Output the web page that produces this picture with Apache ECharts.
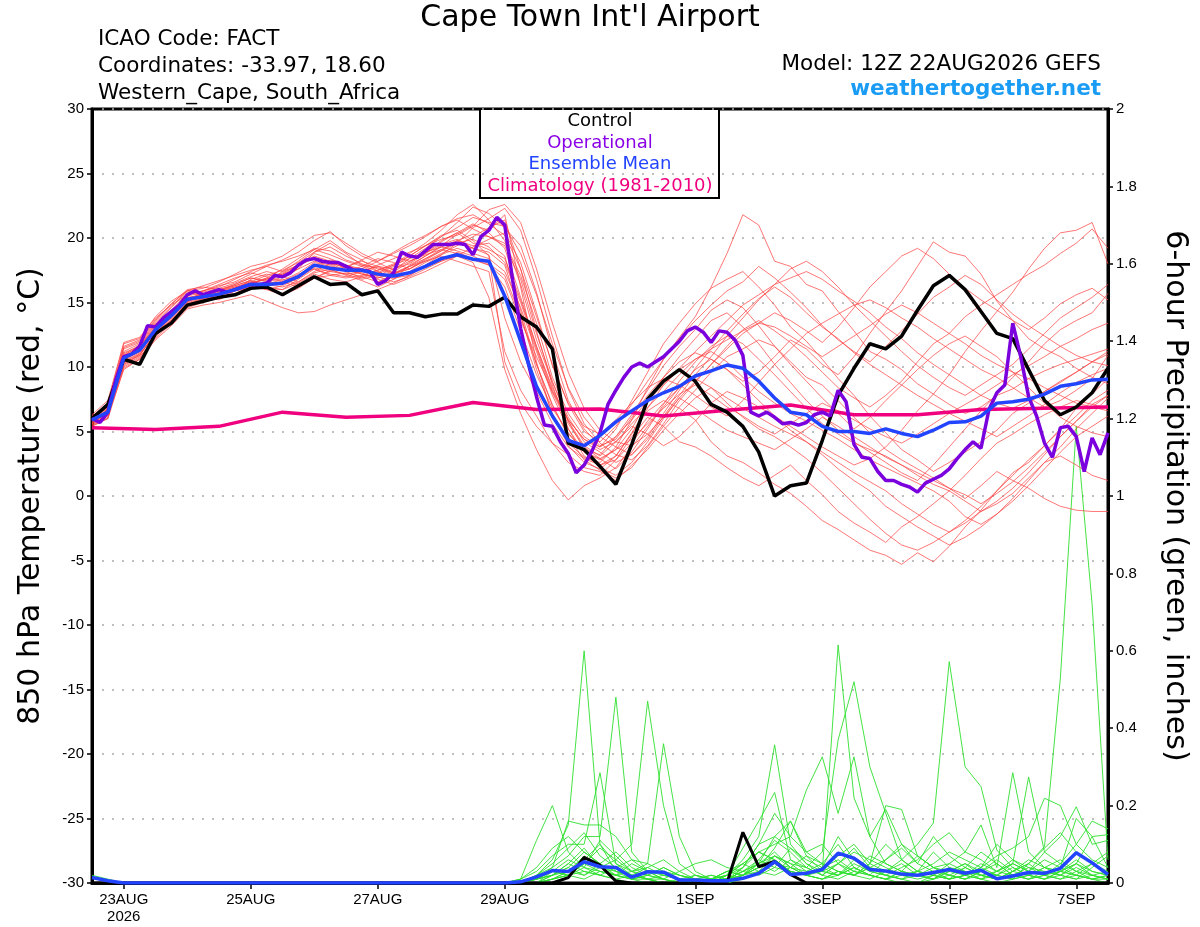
<!DOCTYPE html>
<html>
<head>
<meta charset="utf-8">
<title>Cape Town Int'l Airport</title>
<script src="https://cdn.jsdelivr.net/npm/echarts@6.0.0/dist/echarts.min.js"></script>
<style>
html, body { margin: 0; padding: 0; background: #fff; }
#chart { width: 1200px; height: 927px; }
</style>
</head>
<body>
<div id="chart"></div>
<script>
// hours since 22AUG 12Z ; members every 6h, operational every 3h, climatology every 24h
var xTickHours = [12, 60, 108, 156, 228, 276, 324, 372];
var xTickLabels = ['23AUG\n2026', '25AUG', '27AUG', '29AUG', '1SEP', '3SEP', '5SEP', '7SEP'];

var controlTemp = [6.0,7.1,10.6,10.2,12.6,13.4,14.8,15.1,15.4,15.6,16.1,16.2,15.6,16.3,17.0,16.4,16.5,15.6,15.9,14.2,14.2,13.9,14.1,14.1,14.8,14.7,15.4,13.9,13.1,11.4,4.1,3.6,2.3,0.9,4.0,7.5,8.9,9.8,8.9,7.1,6.5,5.4,3.4,0.0,0.8,1.0,4.3,7.8,9.9,11.8,11.4,12.4,14.4,16.3,17.1,16.0,14.3,12.6,12.2,9.8,7.4,6.3,6.9,8.0,9.9];
var meanTemp = [5.9,6.5,10.7,11.3,12.9,14.0,15.25,15.45,15.65,16.0,16.4,16.4,16.5,17.0,17.9,17.65,17.5,17.5,17.2,17.05,17.3,17.8,18.4,18.7,18.35,18.2,15.5,12.0,8.5,6.2,4.3,3.9,4.7,5.75,6.6,7.4,8.0,8.5,9.3,9.7,10.15,9.9,8.9,7.6,6.5,6.3,5.4,5.0,5.0,4.85,5.2,4.85,4.6,5.1,5.7,5.75,6.2,7.2,7.3,7.5,7.9,8.5,8.7,9.0,9.05];
var operTemp = [6.0,5.7,6.5,9.0,10.8,11.0,11.6,13.2,13.1,13.8,14.3,14.8,15.6,15.9,15.6,15.8,16.0,15.8,16.0,16.2,16.4,16.4,16.5,17.1,17.0,17.3,17.9,18.3,18.4,18.2,18.1,18.1,17.8,17.5,17.5,17.4,16.4,16.7,17.3,18.9,18.6,18.5,19.0,19.5,19.5,19.5,19.6,19.5,18.7,20.1,20.6,21.6,21.0,
  16.7,13.0,10.2,7.7,5.5,5.4,4.2,3.3,1.8,2.4,3.5,4.9,7.1,8.2,9.2,10.0,10.3,10.0,10.4,10.8,11.4,12.0,12.8,13.1,12.7,11.9,12.8,12.7,12.1,10.9,6.5,6.2,6.5,6.1,5.6,5.7,5.5,5.7,6.3,6.5,6.2,8.2,7.3,4.0,3.0,2.9,1.9,1.2,1.2,0.9,0.7,0.3,1.0,1.3,1.6,2.1,2.9,3.6,4.2,3.7,6.7,8.0,8.6,13.4,10.8,7.7,6.2,4.1,3.0,5.3,5.4,4.6,1.9,4.5,3.2,4.9];
var climTemp = [5.3,5.15,5.4,6.5,6.1,6.25,7.25,6.7,6.75,6.2,6.65,7.05,6.3,6.3,6.7,6.8,6.9];

var controlPrcp = [0,0,0,0,0,0,0,0,0,0,0,0,0,0,0,0,0,0,0,0,0,0,0,0,0,0,0,0,0,0,0.014,0.066,0.046,0.005,0,0,0,0,0,0,0,0.131,0.042,0.056,0.022,0,0,0,0,0,0,0,0,0,0,0,0,0,0,0,0,0,0,0,0];
var meanPrcp = [0.014,0.006,0,0,0,0,0,0,0,0,0,0,0,0,0,0,0,0,0,0,0,0,0,0,0,0,0,0.003,0.016,0.032,0.03,0.055,0.042,0.04,0.015,0.029,0.028,0.008,0.008,0.006,0.006,0.012,0.025,0.055,0.022,0.025,0.035,0.077,0.064,0.035,0.031,0.023,0.02,0.027,0.035,0.025,0.033,0.011,0.018,0.027,0.025,0.038,0.078,0.052,0.022];

// ensemble members, 850 hPa temperature
var t01 = [5.6,6.8,11.2,11.8,13.4,14.6,15.8,15.5,15.2,15.9,16.8,17.2,16.9,17.6,18.9,19.6,18.8,17.9,17.4,16.8,17.9,18.6,19.4,20.3,21.0,20.6,21.8,16.2,10.4,6.2,4.1,3.0,2.6,3.8,5.9,8.4,10.6,12.3,13.9,16.2,18.8,21.8,21.0,18.2,17.8,16.4,15.9,14.3,12.8,11.2,10.6,9.8,8.7,7.9,7.1,6.4,6.9,7.8,8.3,9.1,9.7,10.2,10.6,11.0,11.4];
var t02 = [6.2,7.0,10.2,11.0,12.5,13.8,15.0,15.9,16.3,16.6,17.2,17.8,18.3,18.9,19.8,20.5,19.4,18.6,18.1,17.5,18.4,19.2,20.1,21.2,22.4,21.9,20.8,19.4,15.8,11.2,7.4,5.2,3.9,4.4,6.1,7.8,9.2,10.4,11.1,10.6,9.8,8.9,9.6,10.8,12.1,11.4,10.2,9.4,10.8,12.6,14.3,15.9,17.8,19.7,18.9,18.6,17.2,15.1,13.6,12.2,11.4,10.8,9.9,9.2,8.7];
var t03 = [5.4,6.1,10.9,11.6,13.2,14.2,15.4,15.3,15.8,16.2,16.6,16.1,16.0,16.8,17.6,17.2,17.0,17.4,17.8,17.6,18.0,18.8,19.5,19.9,19.2,18.7,13.8,10.4,8.1,5.6,3.8,2.9,2.4,3.1,4.8,6.6,7.4,6.8,5.9,4.2,3.1,2.6,1.8,0.9,0.2,-0.8,-1.9,-2.6,-3.4,-4.2,-4.6,-5.3,-4.4,-5.1,-3.9,-2.4,-1.1,0.4,1.8,2.6,3.9,5.2,6.8,7.9,9.1];
var t04 = [5.8,6.6,10.4,11.1,12.7,13.6,14.9,15.2,15.6,16.1,16.5,16.8,17.2,17.9,18.6,18.2,17.6,17.2,16.9,17.4,18.1,18.9,19.8,20.4,19.6,19.1,18.4,15.2,11.6,8.2,5.9,4.4,3.6,4.2,5.4,4.8,3.9,4.6,5.8,7.2,8.1,7.6,6.9,6.2,5.4,4.6,3.8,3.1,2.4,2.9,3.8,5.1,6.6,7.9,9.4,11.2,12.8,14.3,15.8,17.6,19.2,20.4,20.6,21.2,18.0];
var t05 = [6.0,6.9,11.5,12.0,13.6,14.9,16.0,16.2,16.0,16.4,16.9,16.6,17.4,18.2,19.1,19.8,18.9,18.3,17.4,16.9,17.1,17.9,18.7,19.6,20.8,21.5,22.3,20.6,16.8,12.4,8.3,5.6,4.1,3.2,2.8,3.9,5.6,7.4,8.8,10.2,11.6,12.9,13.6,12.8,11.9,10.8,9.6,8.4,7.6,6.9,7.8,8.9,10.4,11.8,12.6,13.9,14.8,15.6,16.4,17.2,17.9,18.8,19.6,20.7,19.2];
var t06 = [5.5,6.3,10.1,10.8,12.2,13.4,14.6,15.0,15.4,15.7,16.2,16.0,15.6,16.1,16.9,17.1,17.3,17.0,16.6,17.2,17.8,18.2,18.6,18.2,17.8,17.4,11.2,8.2,6.2,4.1,2.6,1.9,1.6,2.8,4.6,6.1,5.4,4.2,3.8,3.1,2.2,1.4,0.8,1.6,2.4,1.2,0.1,-1.2,-2.1,-2.8,-3.6,-2.4,-1.6,-0.6,0.4,1.6,2.9,4.1,4.8,5.6,6.3,6.9,7.4,7.1,6.8];
var t07 = [6.1,7.2,11.8,12.2,13.9,15.1,15.9,15.6,15.3,15.6,16.0,16.5,17.0,16.6,17.4,18.0,17.8,17.6,18.2,18.9,19.6,20.2,20.9,21.4,20.7,20.1,19.6,17.1,13.4,9.2,6.4,4.6,3.8,5.2,7.4,9.6,11.8,13.4,14.9,16.1,16.8,17.4,16.2,14.8,13.1,12.0,10.6,9.1,7.8,6.2,4.9,3.6,2.8,1.9,2.6,3.4,4.2,5.1,6.4,7.2,8.1,8.8,9.6,10.4,11.2];
var t08 = [5.7,6.4,10.6,11.4,13.0,14.3,15.5,15.8,16.1,16.5,17.0,17.4,17.1,17.8,18.8,18.4,17.9,17.6,17.0,16.6,17.0,17.6,18.2,18.9,18.4,17.9,16.2,12.8,9.4,6.8,4.9,3.4,2.9,2.1,3.4,5.2,7.1,8.9,10.4,11.6,12.4,11.8,10.6,9.4,8.1,6.8,5.6,4.8,4.1,3.6,3.1,2.4,1.6,0.9,0.4,-0.4,-1.2,-0.6,0.2,1.4,2.6,3.1,2.4,1.6,1.2];
var t09 = [5.9,6.7,10.8,11.5,13.1,14.0,15.1,15.4,15.9,16.3,16.7,16.3,16.6,17.2,17.6,17.1,16.9,17.1,17.5,17.9,18.4,18.9,19.3,19.0,18.6,18.0,17.1,13.9,10.2,7.1,4.6,2.8,2.0,1.4,2.2,3.8,5.4,6.9,8.2,9.6,10.8,11.4,12.1,11.6,10.4,9.2,8.6,7.4,6.1,4.9,3.6,2.8,2.1,1.4,0.6,-0.2,0.8,1.9,1.2,0.6,-0.2,-0.8,-1.1,-1.2,-1.2];
var t10 = [5.6,6.2,9.8,10.6,12.3,13.7,14.7,15.1,15.5,15.9,16.2,16.6,16.4,17.0,17.8,18.3,17.9,17.3,16.8,16.4,16.9,17.4,18.0,18.6,19.3,19.9,20.4,18.1,14.2,10.1,7.2,5.4,4.8,5.9,7.2,8.4,9.1,8.6,7.8,6.9,6.2,7.4,8.8,10.2,11.4,12.6,13.4,14.1,14.8,15.2,14.6,13.8,13.1,12.2,11.4,10.6,9.8,9.2,8.4,7.6,6.9,7.4,8.2,9.1,10.9];
var t11 = [6.3,7.4,11.9,12.3,13.8,14.8,15.6,15.9,16.4,16.9,17.3,17.0,16.7,17.3,18.1,17.8,17.4,17.8,18.4,18.1,17.6,18.2,18.8,19.4,20.1,20.8,21.4,17.6,12.8,8.6,5.2,3.4,2.8,3.6,5.2,7.4,9.2,10.8,12.2,13.6,14.2,13.1,11.8,10.2,8.8,7.4,6.2,5.1,4.2,3.4,2.6,1.8,1.2,2.4,3.8,5.2,6.6,7.9,9.2,10.4,11.8,12.9,13.6,14.2,15.7];
var t12 = [5.8,6.5,10.3,10.9,12.6,13.9,15.2,15.6,15.9,16.2,16.4,16.9,17.6,18.4,19.2,19.0,18.3,17.9,17.7,17.3,17.6,18.3,19.0,19.8,19.4,19.6,18.6,14.4,10.2,7.0,4.8,3.6,3.2,4.6,6.3,8.2,10.1,11.6,12.9,14.4,15.2,14.6,13.2,11.6,10.2,8.9,7.6,6.4,5.2,6.1,7.4,8.6,9.8,10.9,11.8,12.4,11.6,10.8,9.6,8.4,7.2,6.1,5.4,4.9,4.6];
var t13 = [5.5,6.0,10.5,11.2,12.8,14.1,15.3,15.7,16.0,16.3,16.7,16.2,16.0,16.5,17.2,16.8,16.6,17.0,17.5,18.0,18.6,19.4,20.2,20.6,19.8,18.6,10.4,7.2,5.4,4.1,3.2,2.2,1.9,1.2,2.4,3.6,5.1,6.4,7.6,8.4,7.2,6.1,5.2,4.6,3.8,2.9,1.8,0.6,-0.6,-1.8,-2.9,-3.8,-4.2,-3.6,-2.8,-1.9,-0.8,0.4,1.6,2.8,3.9,5.1,6.2,7.4,8.2];
var t14 = [6.0,6.8,11.0,11.7,13.3,14.4,15.7,15.9,16.2,16.8,17.4,17.9,18.2,18.6,19.1,18.7,18.2,17.8,17.2,17.8,18.6,19.4,20.1,20.8,21.6,21.2,20.9,18.8,15.6,11.8,8.4,6.1,4.6,3.8,3.2,4.4,6.2,7.8,9.4,10.8,12.4,13.8,15.2,16.4,17.6,18.2,17.4,16.2,14.8,13.6,12.4,11.2,10.1,9.2,8.4,7.8,8.6,9.4,10.2,11.4,12.6,13.8,14.6,15.4,16.4];
var t15 = [5.7,6.3,10.0,10.7,12.4,13.5,14.8,15.2,15.6,16.0,16.3,16.4,16.2,16.6,17.3,17.6,17.1,16.7,16.2,16.8,17.4,18.1,18.7,19.2,18.8,18.4,17.4,14.6,11.2,7.8,5.2,3.1,2.4,2.8,4.1,5.8,7.2,8.4,9.1,8.4,7.6,6.8,6.1,5.4,4.8,4.2,3.4,2.6,1.8,1.1,0.4,-0.6,-1.4,-2.2,-2.8,-2.1,-1.2,-0.4,0.6,1.8,3.2,4.6,5.8,7.1,7.8];
var t16 = [6.2,7.1,11.4,11.9,13.5,14.7,15.9,16.3,16.7,17.1,17.5,17.8,17.4,17.9,18.5,18.1,17.7,18.3,18.9,18.6,18.2,18.8,19.7,20.4,21.1,20.4,19.2,15.4,11.6,8.4,5.8,3.9,3.1,4.2,5.6,6.9,8.1,9.4,10.6,11.4,12.1,12.8,13.4,13.1,12.4,11.6,10.8,11.6,12.4,13.2,14.1,14.8,14.2,13.4,12.6,11.8,10.9,10.2,9.6,9.1,8.4,7.8,7.2,6.9,6.6];
var t17 = [5.9,6.6,10.7,11.3,12.9,13.8,15.0,15.3,15.7,16.1,16.6,17.1,17.5,18.1,18.9,19.3,18.6,18.0,17.6,17.2,17.6,18.4,19.1,19.7,19.2,18.9,17.9,14.1,9.8,6.4,3.9,2.6,2.1,3.1,4.9,6.8,8.6,9.8,10.6,11.2,10.4,9.2,8.1,7.2,6.4,5.8,5.1,4.4,3.6,2.8,2.2,1.6,1.0,0.4,-0.4,-1.6,-2.2,-1.4,-0.4,0.8,2.1,3.4,4.6,5.4,6.2];
var t18 = [6.1,6.9,11.1,11.6,13.1,14.3,15.4,15.6,15.9,16.4,16.9,16.7,17.2,17.6,18.2,17.9,17.4,16.9,17.3,17.9,18.8,19.6,20.6,21.8,22.6,21.4,19.8,16.4,12.1,8.8,6.1,4.2,3.4,2.6,3.2,4.6,6.4,8.2,9.9,11.4,12.8,14.1,15.3,16.2,15.4,14.2,13.1,12.2,11.1,10.2,9.4,8.6,7.8,7.1,6.4,5.8,5.2,4.6,5.4,6.2,7.1,8.0,8.8,9.4,9.9];
var t19 = [5.6,6.4,10.4,11.0,12.5,13.6,14.9,15.3,15.8,16.0,16.5,16.8,17.3,17.9,18.4,18.0,17.5,17.2,16.9,17.2,17.8,18.4,19.0,19.6,19.9,19.3,18.1,15.0,11.4,8.0,5.6,3.8,2.9,3.6,4.4,5.6,6.8,7.9,8.6,7.8,6.9,6.2,5.4,4.8,5.6,6.4,7.2,6.6,5.9,5.2,4.6,4.1,4.8,5.6,6.4,7.1,7.8,8.6,9.4,10.1,10.8,11.6,12.2,12.9,13.4];
var t20 = [5.8,6.7,10.9,11.6,13.0,14.2,15.3,15.4,15.6,16.0,16.4,16.0,16.3,16.9,17.7,17.4,17.2,17.4,17.9,18.4,18.9,19.4,19.9,20.2,20.9,22.2,22.6,21.2,17.6,13.4,9.6,6.8,5.1,4.2,3.9,4.8,6.1,7.6,8.9,10.2,11.4,12.6,13.4,14.2,13.6,12.8,11.9,13.1,14.6,16.2,17.4,18.6,19.2,18.4,17.2,16.1,15.2,14.4,13.6,12.9,13.8,14.9,15.6,16.1,15.2];
var t21 = [5.4,6.0,9.9,10.6,12.1,13.2,14.5,14.8,15.0,15.3,15.6,15.1,14.6,14.2,14.3,14.8,15.2,15.6,16.0,16.5,17.1,17.8,18.2,18.6,18.1,15.4,9.8,6.4,3.6,1.2,-0.3,0.8,1.4,2.2,3.8,5.4,6.9,8.4,9.8,10.6,9.8,8.6,7.4,6.2,5.1,4.2,3.2,2.1,1.2,0.4,-0.8,-1.6,-2.4,-3.1,-3.8,-3.2,-2.4,-1.4,-0.2,1.2,2.6,3.8,5.2,6.4,7.6];
var t22 = [6.0,6.9,11.6,12.1,13.7,14.9,15.9,16.1,16.6,17.2,17.8,18.1,18.6,19.4,20.2,20.4,19.6,18.8,18.2,18.8,19.4,20.1,20.9,21.5,21.8,21.1,20.2,17.6,13.9,10.2,7.1,5.0,4.2,5.4,7.1,8.9,10.6,12.2,13.6,14.8,15.9,16.6,17.8,16.9,15.8,14.6,13.2,12.1,11.2,10.4,11.6,12.8,14.1,15.4,16.2,17.1,16.4,15.2,14.1,13.2,12.4,11.6,10.9,10.4,10.1];
var t23 = [5.7,6.5,10.6,11.2,12.8,14.0,15.1,15.5,15.7,15.9,16.1,16.4,16.8,16.4,16.9,17.4,17.8,18.2,17.8,17.3,17.8,18.6,19.3,19.8,20.3,20.1,19.4,16.8,12.6,8.9,5.8,3.6,2.2,1.6,2.6,4.2,6.0,7.6,6.8,5.9,5.1,4.6,4.1,3.6,4.4,5.2,6.1,5.4,4.6,3.8,3.0,2.4,1.8,1.2,0.6,0.1,-0.6,0.2,1.1,2.2,3.4,4.6,5.8,6.9,7.8];
var t24 = [5.9,6.4,10.2,10.9,12.6,13.9,15.1,15.4,15.7,16.1,16.5,16.9,16.6,16.2,16.9,17.5,17.2,16.8,17.1,17.6,18.2,18.7,19.1,18.8,18.3,17.9,16.8,13.6,10.8,8.1,5.9,4.4,3.8,4.6,5.9,7.4,8.6,9.9,11.2,12.4,13.6,14.8,15.6,16.4,16.9,17.4,16.8,15.9,15.1,14.2,13.1,12.2,11.1,10.2,9.4,8.6,7.8,7.2,6.8,7.4,8.1,8.9,9.6,10.4,11.0];

// ensemble members, 6-hour precipitation
var p01 = [0.02,0.01,0,0,0,0,0,0,0,0,0,0,0,0,0,0,0,0,0,0,0,0,0,0,0,0,0,0.01,0.11,0.2,0.08,0.04,0.02,0.01,0,0,0,0,0.01,0.02,0.01,0.03,0.06,0.11,0.08,0.04,0.02,0.05,0.09,0.04,0.02,0.01,0,0.01,0.03,0.05,0.02,0.01,0.03,0.06,0.04,0.02,0.01,0.02,0.03];
var p02 = [0,0,0,0,0,0,0,0,0,0,0,0,0,0,0,0,0,0,0,0,0,0,0,0,0,0,0,0,0.02,0.06,0.15,0.6,0.1,0.03,0.01,0,0,0,0,0,0.01,0.02,0.04,0.09,0.16,0.07,0.03,0.02,0.04,0.02,0.01,0,0,0.02,0.05,0.03,0.01,0,0.01,0.02,0.04,0.06,0.03,0.01,0];
var p03 = [0,0,0,0,0,0,0,0,0,0,0,0,0,0,0,0,0,0,0,0,0,0,0,0,0,0,0,0,0.01,0.04,0.07,0.12,0.12,0.48,0.08,0.03,0.01,0,0,0.01,0.02,0.05,0.08,0.06,0.03,0.02,0.04,0.12,0.06,0.03,0.02,0.01,0.03,0.08,0.04,0.02,0.01,0.02,0.05,0.03,0.02,0.01,0.03,0.05,0.02];
var p04 = [0,0,0,0,0,0,0,0,0,0,0,0,0,0,0,0,0,0,0,0,0,0,0,0,0,0,0,0,0,0.02,0.05,0.09,0.04,0.06,0.1,0.47,0.2,0.05,0.02,0.01,0.03,0.02,0.05,0.12,0.09,0.05,0.02,0.01,0.03,0.07,0.05,0.03,0.02,0.01,0.02,0.04,0.08,0.05,0.02,0.01,0.03,0.02,0.01,0.04,0.07];
var p05 = [0,0,0,0,0,0,0,0,0,0,0,0,0,0,0,0,0,0,0,0,0,0,0,0,0,0,0,0,0.01,0.03,0.02,0.05,0.09,0.06,0.03,0.05,0.36,0.12,0.03,0.01,0,0.01,0.03,0.07,0.05,0.02,0.01,0.03,0.02,0.05,0.1,0.06,0.03,0.02,0.01,0.02,0.04,0.02,0.01,0.05,0.09,0.13,0.08,0.05,0.03];
var p06 = [0,0,0,0,0,0,0,0,0,0,0,0,0,0,0,0,0,0,0,0,0,0,0,0,0,0,0,0.01,0.03,0.07,0.1,0.1,0.285,0.05,0.02,0.01,0,0,0.02,0.01,0,0.04,0.1,0.12,0.16,0.08,0.1,0.05,0.02,0.01,0.03,0.05,0.02,0.01,0.04,0.02,0.01,0.03,0.06,0.04,0.02,0.05,0.03,0.02,0.01];
var p07 = [0,0,0,0,0,0,0,0,0,0,0,0,0,0,0,0,0,0,0,0,0,0,0,0,0,0,0,0,0.02,0.05,0.09,0.13,0.07,0.04,0.02,0.01,0.02,0.01,0,0.01,0.02,0.06,0.12,0.357,0.1,0.05,0.03,0.02,0.06,0.04,0.02,0.01,0.02,0.03,0.01,0.02,0.05,0.03,0.02,0.01,0.02,0.04,0.02,0.01,0.02];
var p08 = [0,0,0,0,0,0,0,0,0,0,0,0,0,0,0,0,0,0,0,0,0,0,0,0,0,0,0,0,0,0.03,0.06,0.04,0.11,0.07,0.03,0.04,0.06,0.03,0.01,0,0.02,0.09,0.16,0.234,0.06,0.03,0.05,0.1,0.04,0.02,0.01,0.03,0.07,0.04,0.02,0.01,0.03,0.05,0.02,0.01,0.02,0.03,0.06,0.03,0.02];
var p09 = [0,0,0,0,0,0,0,0,0,0,0,0,0,0,0,0,0,0,0,0,0,0,0,0,0,0,0,0,0.01,0.02,0.04,0.08,0.05,0.02,0.01,0.02,0.01,0,0,0.01,0.01,0.02,0.05,0.08,0.04,0.03,0.03,0.615,0.22,0.12,0.05,0.03,0.02,0.04,0.02,0.01,0.02,0.01,0.03,0.05,0.02,0.01,0.02,0.01,0.01];
var p10 = [0,0,0,0,0,0,0,0,0,0,0,0,0,0,0,0,0,0,0,0,0,0,0,0,0,0,0,0,0,0.01,0.03,0.06,0.1,0.05,0.03,0.02,0.04,0.02,0.01,0,0.01,0.03,0.05,0.07,0.05,0.04,0.08,0.37,0.52,0.3,0.18,0.06,0.03,0.02,0.01,0.04,0.02,0.01,0.02,0.04,0.03,0.02,0.05,0.03,0.02];
var p11 = [0,0,0,0,0,0,0,0,0,0,0,0,0,0,0,0,0,0,0,0,0,0,0,0,0,0,0,0,0.01,0.02,0.05,0.03,0.02,0.04,0.06,0.03,0.02,0.01,0,0.01,0.03,0.05,0.08,0.1,0.12,0.24,0.326,0.18,0.326,0.12,0.19,0.1,0.05,0.03,0.02,0.01,0.03,0.06,0.03,0.02,0.01,0.02,0.04,0.02,0.01];
var p12 = [0,0,0,0,0,0,0,0,0,0,0,0,0,0,0,0,0,0,0,0,0,0,0,0,0,0,0,0,0,0.01,0.02,0.04,0.03,0.02,0.05,0.03,0.01,0,0,0,0.01,0.02,0.04,0.06,0.03,0.02,0.04,0.07,0.1,0.05,0.03,0.06,0.1,0.155,0.572,0.3,0.249,0.085,0.04,0.02,0.01,0.03,0.05,0.02,0.01];
var p13 = [0,0,0,0,0,0,0,0,0,0,0,0,0,0,0,0,0,0,0,0,0,0,0,0,0,0,0,0,0,0.02,0.04,0.02,0.05,0.08,0.04,0.02,0.01,0,0,0,0.02,0.05,0.03,0.02,0.04,0.07,0.05,0.03,0.02,0.04,0.06,0.1,0.07,0.04,0.05,0.08,0.15,0.04,0.285,0.08,0.04,0.03,0.02,0.05,0.08];
var p14 = [0,0,0,0,0,0,0,0,0,0,0,0,0,0,0,0,0,0,0,0,0,0,0,0,0,0,0,0,0.01,0.03,0.02,0.05,0.03,0.02,0.01,0.02,0.04,0.02,0.01,0,0,0.02,0.06,0.04,0.09,0.06,0.04,0.02,0.05,0.03,0.02,0.04,0.06,0.1,0.13,0.08,0.06,0.03,0.05,0.274,0.08,0.05,0.1,0.06,0.04];
var p15 = [0,0,0,0,0,0,0,0,0,0,0,0,0,0,0,0,0,0,0,0,0,0,0,0,0,0,0,0,0,0.01,0.03,0.07,0.04,0.02,0.03,0.01,0,0,0.01,0.02,0.01,0.03,0.05,0.03,0.06,0.04,0.02,0.05,0.08,0.06,0.04,0.02,0.03,0.05,0.08,0.06,0.04,0.07,0.09,0.12,0.219,0.2,0.1,0.16,0.14];
var p16 = [0,0,0,0,0,0,0,0,0,0,0,0,0,0,0,0,0,0,0,0,0,0,0,0,0,0,0,0,0,0.01,0.02,0.03,0.02,0.01,0.02,0.01,0,0,0,0,0.01,0.02,0.03,0.05,0.04,0.02,0.01,0.03,0.02,0.04,0.03,0.02,0.01,0.02,0.04,0.03,0.02,0.01,0.03,0.05,0.094,0.53,1.18,0.72,0.06];
var p17 = [0,0,0,0,0,0,0,0,0,0,0,0,0,0,0,0,0,0,0,0,0,0,0,0,0,0,0,0.01,0.04,0.09,0.12,0.08,0.05,0.03,0.02,0.04,0.02,0.01,0,0,0.01,0.04,0.1,0.18,0.12,0.08,0.05,0.03,0.02,0.05,0.2,0.19,0.07,0.04,0.03,0.02,0.04,0.1,0.06,0.03,0.08,0.12,0.197,0.1,0.11];
var p18 = [0,0,0,0,0,0,0,0,0,0,0,0,0,0,0,0,0,0,0,0,0,0,0,0,0,0,0,0,0.02,0.04,0.16,0.15,0.15,0.12,0.06,0.05,0.03,0.02,0.01,0.01,0.03,0.02,0.04,0.07,0.04,0.02,0.03,0.05,0.03,0.02,0.06,0.09,0.05,0.12,0.07,0.04,0.02,0.03,0.05,0.03,0.06,0.04,0.167,0.12,0.125];
var p19 = [0,0,0,0,0,0,0,0,0,0,0,0,0,0,0,0,0,0,0,0,0,0,0,0,0,0,0,0,0.01,0.02,0.03,0.02,0.04,0.03,0.02,0.01,0.01,0.03,0.05,0.06,0.04,0.03,0.02,0.04,0.03,0.02,0.01,0.02,0.04,0.02,0.01,0.02,0.03,0.02,0.01,0.02,0.03,0.02,0.01,0.02,0.04,0.03,0.02,0.01,0.02];
var p20 = [0,0,0,0,0,0,0,0,0,0,0,0,0,0,0,0,0,0,0,0,0,0,0,0,0,0,0,0,0,0.01,0.02,0.01,0.03,0.02,0.01,0.01,0,0.01,0.02,0.01,0.02,0.04,0.08,0.06,0.03,0.02,0.04,0.06,0.03,0.02,0.01,0.03,0.02,0.01,0.03,0.05,0.03,0.02,0.04,0.02,0.01,0.03,0.05,0.12,0.04];

var tempMembers = [t01,t02,t03,t04,t05,t06,t07,t08,t09,t10,t11,t12,t13,t14,t15,t16,t17,t18,t19,t20,t21,t22,t23,t24];
var prcpMembers = [p01,p02,p03,p04,p05,p06,p07,p08,p09,p10,p11,p12,p13,p14,p15,p16,p17,p18,p19,p20];

function pairs(vals, step){
	var out = [];
	for(var i=0;i<vals.length;i++){
		out.push([i*step, vals[i]]);
	}
	return out;
}

var series = [];
for(var k=0;k<prcpMembers.length;k++){
	series.push({type:'line', yAxisIndex:1, data:pairs(prcpMembers[k],6), symbol:'none', silent:true,
		lineStyle:{color:'#2fe02f', width:0.9}});
}
for(var k=0;k<tempMembers.length;k++){
	series.push({type:'line', yAxisIndex:0, data:pairs(tempMembers[k],6), symbol:'none', silent:true,
		lineStyle:{color:'#ff4040', width:0.9, opacity:0.8}});
}
series.push({name:'Control precip', type:'line', yAxisIndex:1, data:pairs(controlPrcp,6), symbol:'none', lineStyle:{color:'#000', width:3}});
series.push({name:'Mean precip', type:'line', yAxisIndex:1, data:pairs(meanPrcp,6), symbol:'none', lineStyle:{color:'#2244ff', width:3.5}});
series.push({name:'Climatology', type:'line', yAxisIndex:0, data:pairs(climTemp,24), symbol:'none', lineStyle:{color:'#f0007f', width:3.5}});
series.push({name:'Control', type:'line', yAxisIndex:0, data:pairs(controlTemp,6), symbol:'none', lineStyle:{color:'#000', width:3.5}});
series.push({name:'Operational', type:'line', yAxisIndex:0, data:pairs(operTemp,3), symbol:'none', lineStyle:{color:'#7a00dd', width:3.5}});
series.push({name:'Ensemble Mean', type:'line', yAxisIndex:0, data:pairs(meanTemp,6), symbol:'none', lineStyle:{color:'#2244ff', width:3.5}});

var tickFont = 'Liberation Sans';
var headFont = 'DejaVu Sans';

var myChart = echarts.init(document.getElementById('chart'));
var option = {
	animation: false,
	backgroundColor: '#fff',
	grid: {left:92, right:92, top:109, bottom:44, show:true, borderColor:'#000', borderWidth:3, backgroundColor:'transparent'},
	xAxis: {
		type:'value', min:0, max:384,
		splitLine:{show:false},
		axisLine:{show:true, onZero:false, lineStyle:{color:'#000', width:3}},
		axisTick:{show:true, customValues:xTickHours, length:6, lineStyle:{color:'#000', width:1.5}},
		axisLabel:{customValues:xTickHours, color:'#000', fontFamily:tickFont, fontSize:15, lineHeight:17, margin:8,
			formatter:function(v){ var i = xTickHours.indexOf(v); return i>=0 ? xTickLabels[i] : ''; }}
	},
	yAxis: [{
		type:'value', position:'left', min:-30, max:30, interval:5,
		name:'850 hPa Temperature (red, \u00B0C)', nameLocation:'middle', nameGap:46, nameRotate:90,
		nameTextStyle:{fontFamily:headFont, fontSize:30, color:'#000'},
		axisLine:{show:true, onZero:false, lineStyle:{color:'#000', width:3}},
		axisTick:{show:true, length:5, lineStyle:{color:'#000', width:1.5}},
		axisLabel:{color:'#000', fontFamily:tickFont, fontSize:15, margin:8},
		splitLine:{show:true, lineStyle:{color:'#aaa', width:1.5, type:[2,8]}}
	},{
		type:'value', position:'right', min:0, max:2, interval:0.2,
		name:'6-hour Precipitation (green, inches)', nameLocation:'middle', nameGap:52, nameRotate:-90,
		nameTextStyle:{fontFamily:headFont, fontSize:30, color:'#000'},
		axisLine:{show:true, onZero:false, lineStyle:{color:'#000', width:3}},
		axisTick:{show:true, length:5, lineStyle:{color:'#000', width:1.5}},
		axisLabel:{color:'#000', fontFamily:tickFont, fontSize:15, margin:8},
		splitLine:{show:false}
	}],
	graphic: [
		{type:'text', x:590, y:18, style:{text:"Cape Town Int'l Airport", fill:'#000', font:'30px "DejaVu Sans"', textAlign:'center', textVerticalAlign:'middle'}},
		{type:'text', x:98, y:39, style:{text:'ICAO Code: FACT', fill:'#000', font:'21.5px "DejaVu Sans"', textAlign:'left', textVerticalAlign:'middle'}},
		{type:'text', x:98, y:66, style:{text:'Coordinates: -33.97, 18.60', fill:'#000', font:'21.5px "DejaVu Sans"', textAlign:'left', textVerticalAlign:'middle'}},
		{type:'text', x:98, y:93, style:{text:'Western_Cape, South_Africa', fill:'#000', font:'21.5px "DejaVu Sans"', textAlign:'left', textVerticalAlign:'middle'}},
		{type:'text', x:1101, y:64, style:{text:'Model: 12Z 22AUG2026 GEFS', fill:'#000', font:'21.5px "DejaVu Sans"', textAlign:'right', textVerticalAlign:'middle'}},
		{type:'text', x:1101, y:89, style:{text:'weathertogether.net', fill:'#1a9cf5', font:'bold 21.5px "DejaVu Sans"', textAlign:'right', textVerticalAlign:'middle'}},
		{type:'group', x:480, y:109, z:100, children:[
			{type:'rect', shape:{x:0, y:0, width:239, height:89}, style:{fill:'#fff', stroke:'#000', lineWidth:2}},
			{type:'text', x:120, y:12, style:{text:'Control', fill:'#000', font:'18px "DejaVu Sans"', textAlign:'center', textVerticalAlign:'middle'}},
			{type:'text', x:120, y:34, style:{text:'Operational', fill:'#8a00e6', font:'18px "DejaVu Sans"', textAlign:'center', textVerticalAlign:'middle'}},
			{type:'text', x:120, y:55, style:{text:'Ensemble Mean', fill:'#2244ff', font:'18px "DejaVu Sans"', textAlign:'center', textVerticalAlign:'middle'}},
			{type:'text', x:120, y:77, style:{text:'Climatology (1981-2010)', fill:'#f0007f', font:'18px "DejaVu Sans"', textAlign:'center', textVerticalAlign:'middle'}}
		]}
	],
	series: series
};
myChart.setOption(option);
</script>
</body>
</html>
